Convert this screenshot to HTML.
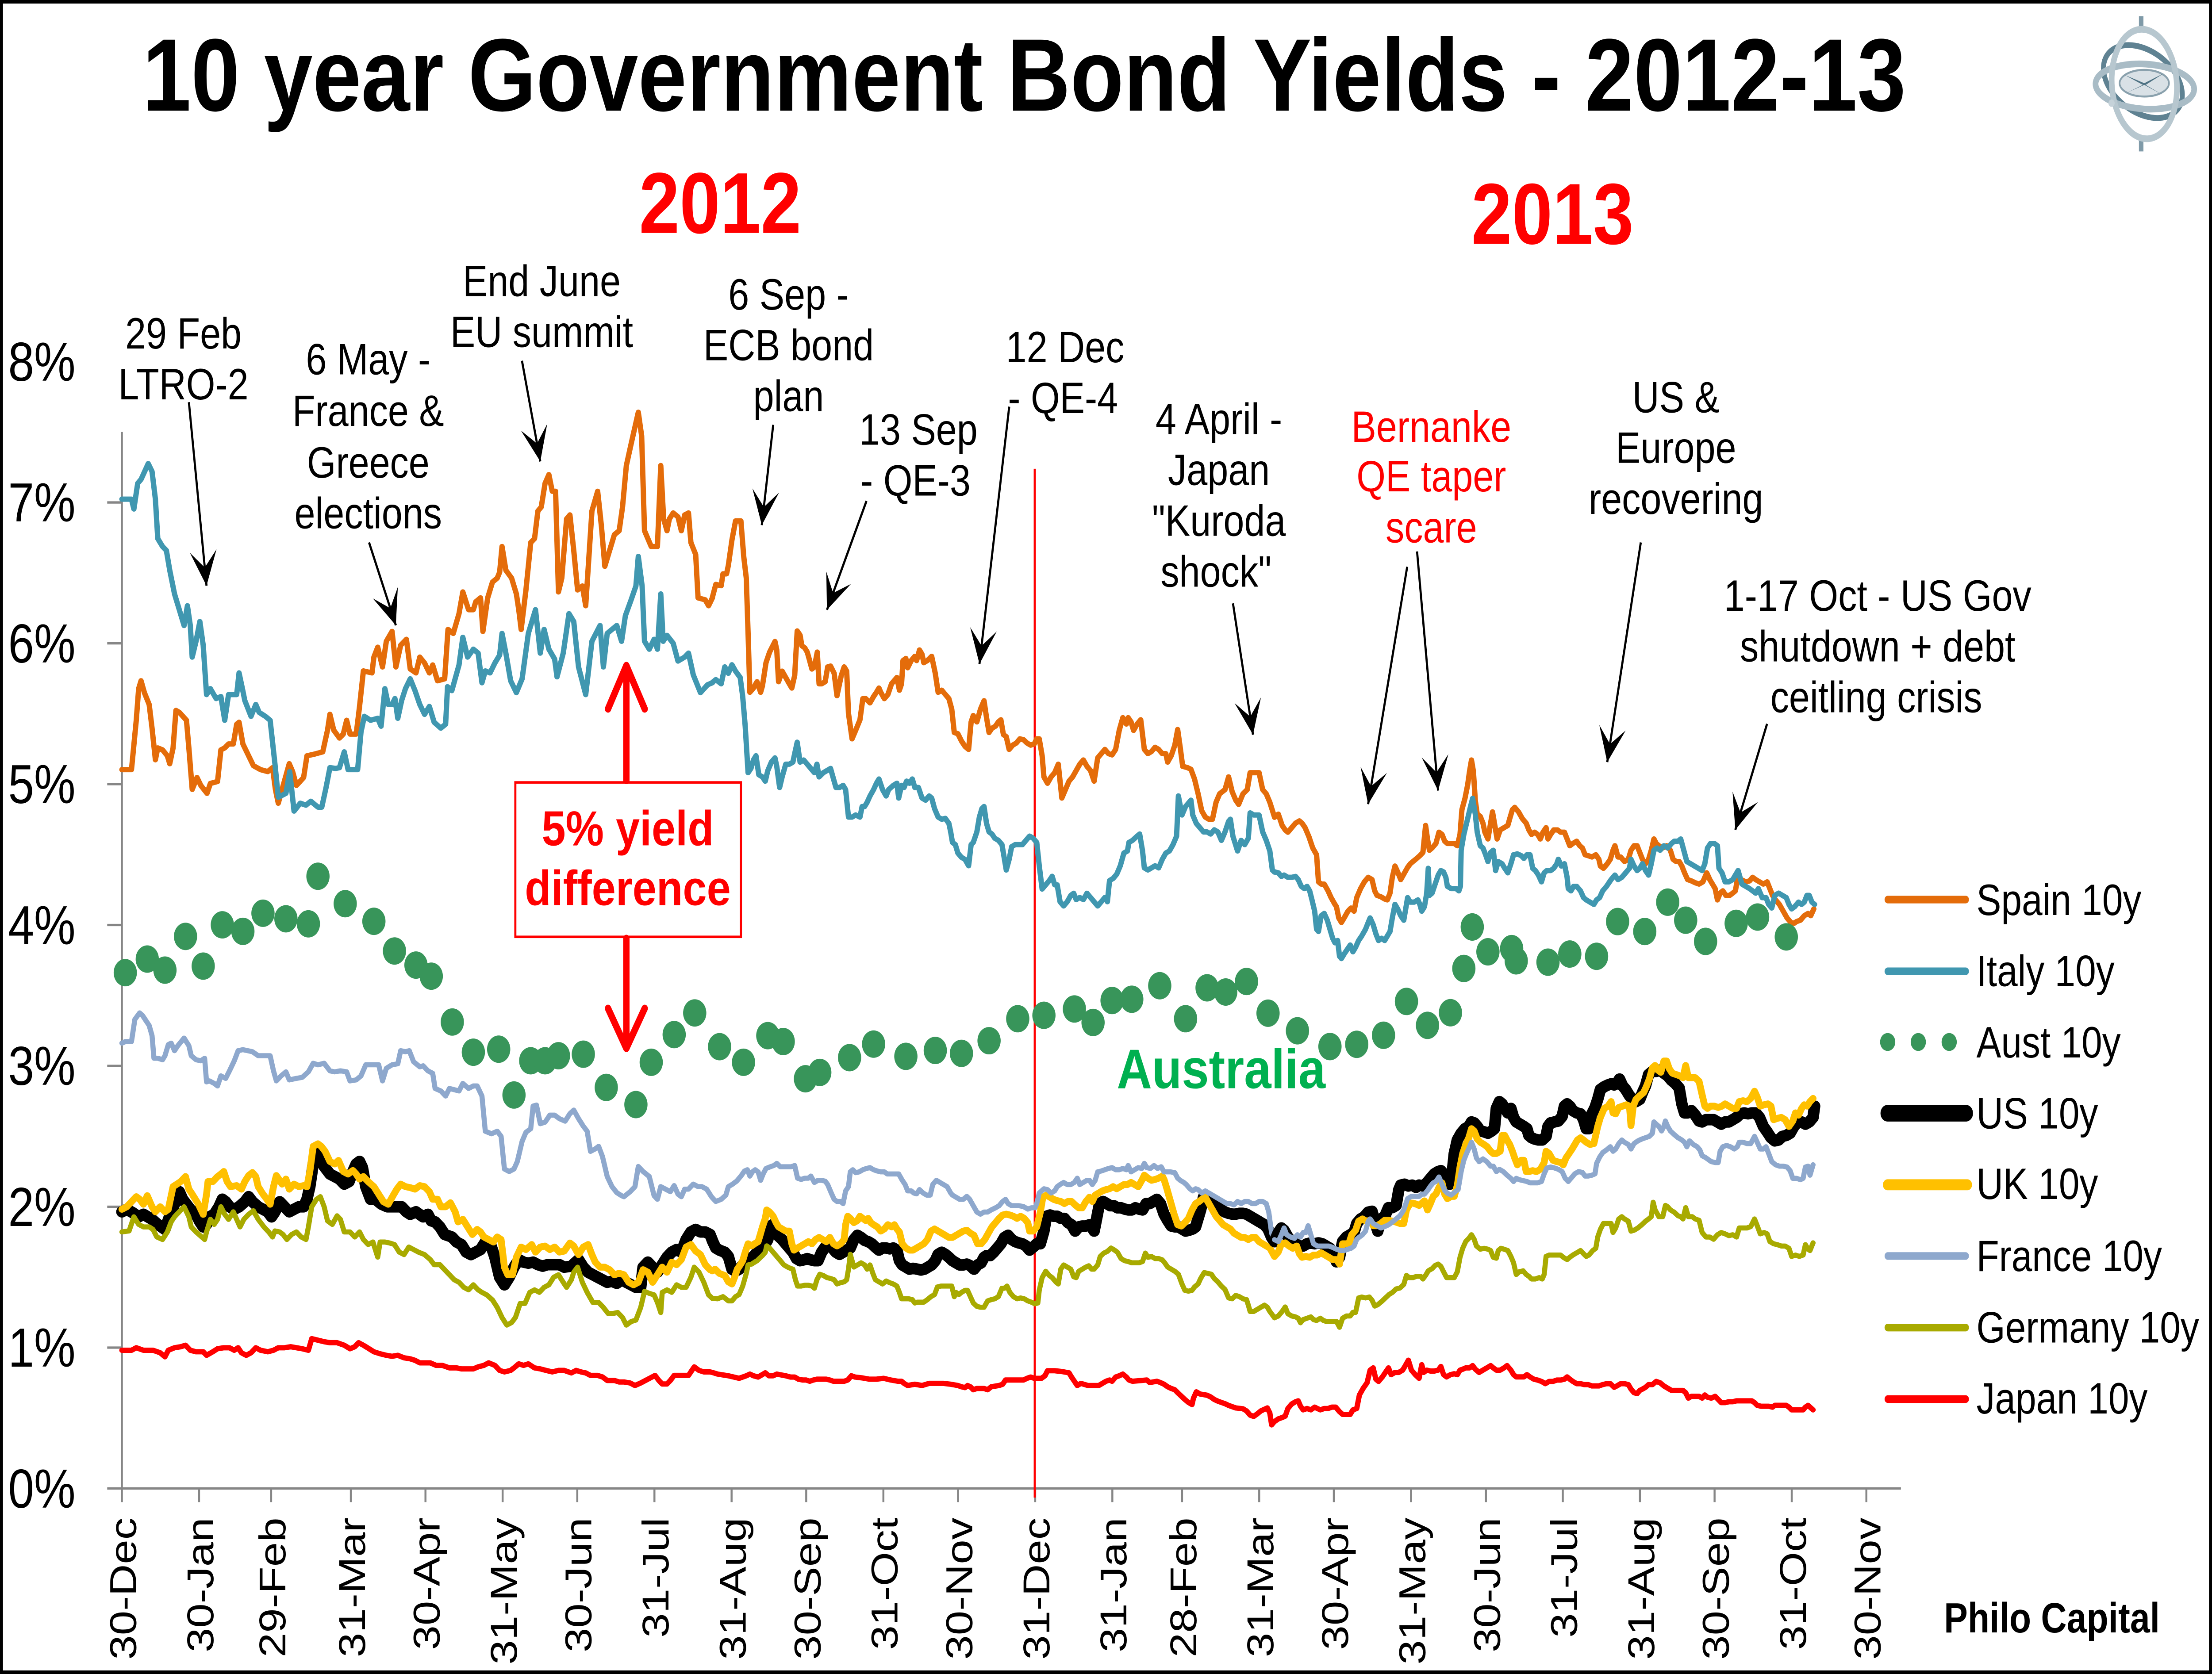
<!DOCTYPE html>
<html>
<head>
<meta charset="utf-8">
<style>
html,body{margin:0;padding:0;background:#fff;width:100%;height:100%;overflow:hidden}
svg.root{display:block;position:absolute;left:0;top:0;width:100vw;height:100vh}
.s{fill:none;stroke-linejoin:round;stroke-linecap:round;vector-effect:non-scaling-stroke}
text{font-family:"Liberation Sans",Arial,sans-serif}
</style>
</head>
<body>
<svg class="root" xmlns="http://www.w3.org/2000/svg" viewBox="0 0 5901 3785" preserveAspectRatio="none">
<rect x="0" y="0" width="5901" height="3785" fill="#fff"/>

<!-- ================= STATIC (small coords) ================= -->
<g transform="scale(3.76339,3.76243)">
<defs>
<marker id="ah" viewBox="-22 -11 23 22" refX="0" refY="0" markerWidth="23" markerHeight="22" markerUnits="userSpaceOnUse" orient="auto">
<path d="M0,0 L-21,-9.5 L-11,0 L-21,9.5 Z" fill="#000"/>
</marker>
</defs>

<!-- Title -->
<text x="101" y="66.5" font-size="62" font-weight="bold" fill="#000" textLength="1250" lengthAdjust="spacingAndGlyphs">10 year Government Bond Yields - 2012-13</text>
<text x="453" y="140" font-size="52" font-weight="bold" fill="#ff0000" textLength="115" lengthAdjust="spacingAndGlyphs">2012</text>
<text x="1043" y="146.5" font-size="52" font-weight="bold" fill="#ff0000" textLength="115" lengthAdjust="spacingAndGlyphs">2013</text>

<!-- Logo -->
<g>
<rect x="1516.2" y="9.7" width="3.2" height="8" fill="#7f9aa8"/>
<rect x="1516.2" y="83" width="3.2" height="8" fill="#7f9aa8"/>
<ellipse cx="1519" cy="49" rx="30" ry="19" transform="rotate(28 1519 49)" fill="none" stroke="#5f8292" stroke-width="3.5"/>
<ellipse cx="1520" cy="50" rx="17.5" ry="8" fill="#d9e1e6" stroke="#8aa1ad" stroke-width="1.2"/>
<path d="M1506 45 L1520 50 L1534 44 L1521 51 L1533 57 L1520 51 L1507 56 L1519 51Z" fill="#4f7384"/>
<ellipse cx="1520.4" cy="52" rx="35" ry="13.5" transform="rotate(3 1520.4 52)" fill="none" stroke="#a9bcc6" stroke-width="4"/>
<ellipse cx="1520" cy="50.5" rx="23" ry="33" transform="rotate(-6 1520 50.5)" fill="none" stroke="#b7c7cf" stroke-width="4"/>
<circle cx="1496.8" cy="62" r="2.2" fill="#c5d2d9"/>
</g>

<!-- Axes -->
<g stroke="#868686" stroke-width="1.4" fill="none">
<line x1="86.4" y1="259.6" x2="86.4" y2="894.5"/>
<line x1="76" y1="894.5" x2="1347.5" y2="894.5"/>
<line x1="76" y1="809.85" x2="86.4" y2="809.85"/>
<line x1="76" y1="725.2" x2="86.4" y2="725.2"/>
<line x1="76" y1="640.55" x2="86.4" y2="640.55"/>
<line x1="76" y1="555.9" x2="86.4" y2="555.9"/>
<line x1="76" y1="471.25" x2="86.4" y2="471.25"/>
<line x1="76" y1="386.6" x2="86.4" y2="386.6"/>
<line x1="76" y1="301.95" x2="86.4" y2="301.95"/>
<line x1="86.4" y1="894.5" x2="86.4" y2="902.7"/>
<line x1="141.1" y1="894.5" x2="141.1" y2="902.7"/>
<line x1="192.2" y1="894.5" x2="192.2" y2="902.7"/>
<line x1="248.7" y1="894.5" x2="248.7" y2="902.7"/>
<line x1="301.6" y1="894.5" x2="301.6" y2="902.7"/>
<line x1="356.3" y1="894.5" x2="356.3" y2="902.7"/>
<line x1="409.2" y1="894.5" x2="409.2" y2="902.7"/>
<line x1="463.9" y1="894.5" x2="463.9" y2="902.7"/>
<line x1="518.6" y1="894.5" x2="518.6" y2="902.7"/>
<line x1="571.5" y1="894.5" x2="571.5" y2="902.7"/>
<line x1="626.2" y1="894.5" x2="626.2" y2="902.7"/>
<line x1="679.1" y1="894.5" x2="679.1" y2="902.7"/>
<line x1="733.8" y1="894.5" x2="733.8" y2="902.7"/>
<line x1="788.5" y1="894.5" x2="788.5" y2="902.7"/>
<line x1="837.9" y1="894.5" x2="837.9" y2="902.7"/>
<line x1="892.6" y1="894.5" x2="892.6" y2="902.7"/>
<line x1="945.5" y1="894.5" x2="945.5" y2="902.7"/>
<line x1="1000.2" y1="894.5" x2="1000.2" y2="902.7"/>
<line x1="1053.3" y1="894.5" x2="1053.3" y2="902.7"/>
<line x1="1107.8" y1="894.5" x2="1107.8" y2="902.7"/>
<line x1="1162.5" y1="894.5" x2="1162.5" y2="902.7"/>
<line x1="1215.4" y1="894.5" x2="1215.4" y2="902.7"/>
<line x1="1270.1" y1="894.5" x2="1270.1" y2="902.7"/>
<line x1="1323" y1="894.5" x2="1323" y2="902.7"/>
</g>

<!-- Y labels -->
<g font-size="33" fill="#000" text-anchor="end">
<text x="53.5" y="906">0%</text>
<text x="53.5" y="821.3">1%</text>
<text x="53.5" y="736.7">2%</text>
<text x="53.5" y="652">3%</text>
<text x="53.5" y="567.4">4%</text>
<text x="53.5" y="482.7">5%</text>
<text x="53.5" y="398.1">6%</text>
<text x="53.5" y="313.4">7%</text>
<text x="53.5" y="228.8">8%</text>
</g>

<!-- X labels -->
<g font-size="26.5" fill="#000" text-anchor="end">
<text transform="translate(96.4,912) rotate(-90)">30-Dec</text>
<text transform="translate(151.1,912) rotate(-90)">30-Jan</text>
<text transform="translate(202.2,912) rotate(-90)">29-Feb</text>
<text transform="translate(258.7,912) rotate(-90)">31-Mar</text>
<text transform="translate(311.6,912) rotate(-90)">30-Apr</text>
<text transform="translate(366.3,912) rotate(-90)">31-May</text>
<text transform="translate(419.2,912) rotate(-90)">30-Jun</text>
<text transform="translate(473.9,912) rotate(-90)">31-Jul</text>
<text transform="translate(528.6,912) rotate(-90)">31-Aug</text>
<text transform="translate(581.5,912) rotate(-90)">30-Sep</text>
<text transform="translate(636.2,912) rotate(-90)">31-Oct</text>
<text transform="translate(689.1,912) rotate(-90)">30-Nov</text>
<text transform="translate(743.8,912) rotate(-90)">31-Dec</text>
<text transform="translate(798.5,912) rotate(-90)">31-Jan</text>
<text transform="translate(847.9,912) rotate(-90)">28-Feb</text>
<text transform="translate(902.6,912) rotate(-90)">31-Mar</text>
<text transform="translate(955.5,912) rotate(-90)">30-Apr</text>
<text transform="translate(1010.2,912) rotate(-90)">31-May</text>
<text transform="translate(1063.3,912) rotate(-90)">30-Jun</text>
<text transform="translate(1117.8,912) rotate(-90)">31-Jul</text>
<text transform="translate(1172.5,912) rotate(-90)">31-Aug</text>
<text transform="translate(1225.4,912) rotate(-90)">30-Sep</text>
<text transform="translate(1280.1,912) rotate(-90)">31-Oct</text>
<text transform="translate(1333,912) rotate(-90)">30-Nov</text>
</g>

<!-- Red vertical year divider -->
<line x1="733.5" y1="281.7" x2="733.5" y2="900" stroke="#ff0000" stroke-width="1.5"/>

<!-- Annotations -->
<g font-size="26.5" fill="#000" text-anchor="middle">
<text x="130" y="209.5">29 Feb</text>
<text x="130" y="240">LTRO-2</text>
<text x="261" y="225">6 May -</text>
<text x="261" y="256">France &amp;</text>
<text x="261" y="287">Greece</text>
<text x="261" y="317.5">elections</text>
<text x="384" y="178">End June</text>
<text x="384" y="208.5">EU summit</text>
<text x="559" y="186">6 Sep -</text>
<text x="559" y="216.5">ECB bond</text>
<text x="559" y="247">plan</text>
<text x="651" y="267.3">13 Sep</text>
<text x="649" y="297.8">- QE-3</text>
<text x="755" y="217.7">12 Dec</text>
<text x="753.5" y="248.2">- QE-4</text>
<text x="864" y="260.9">4 April -</text>
<text x="864" y="291.4">Japan</text>
<text x="864" y="322">"Kuroda</text>
<text x="862" y="352.5">shock"</text>
<text x="1188" y="247.9">US &amp;</text>
<text x="1188" y="278.2">Europe</text>
<text x="1188" y="308.9">recovering</text>
<text x="1331" y="367">1-17 Oct - US Gov</text>
<text x="1331" y="397.5">shutdown + debt</text>
<text x="1330" y="428">ceitling crisis</text>
</g>
<g font-size="26.5" fill="#ff0000" text-anchor="middle">
<text x="1014.6" y="265.5">Bernanke</text>
<text x="1014.6" y="295.3">QE taper</text>
<text x="1014.6" y="326">scare</text>
</g>

<!-- Annotation arrows -->
<g stroke="#000" stroke-width="1.5" marker-end="url(#ah)">
<line x1="133.9" y1="241.7" x2="146.4" y2="352"/>
<line x1="261.6" y1="326" x2="280.6" y2="375.8"/>
<line x1="370" y1="216.8" x2="383" y2="277.3"/>
<line x1="548.1" y1="255.3" x2="540" y2="315.6"/>
<line x1="614.2" y1="301.1" x2="586.2" y2="366.5"/>
<line x1="715.4" y1="244.4" x2="694.3" y2="399"/>
<line x1="874" y1="362.6" x2="888.2" y2="441.5"/>
<line x1="997.5" y1="340.6" x2="969.8" y2="483.3"/>
<line x1="1004.5" y1="331.4" x2="1019.4" y2="475.1"/>
<line x1="1163.1" y1="326" x2="1139.3" y2="458"/>
<line x1="1252.6" y1="435" x2="1230.1" y2="498.7"/>
</g>

<!-- 5% yield difference box + arrows -->
<rect x="365.3" y="470.2" width="159.9" height="92.8" fill="#fff" stroke="#ff0000" stroke-width="1.5"/>
<text x="445" y="508.1" font-size="29.5" font-weight="bold" fill="#ff0000" text-anchor="middle" textLength="122" lengthAdjust="spacingAndGlyphs">5% yield</text>
<text x="445" y="544" font-size="29.5" font-weight="bold" fill="#ff0000" text-anchor="middle" textLength="146" lengthAdjust="spacingAndGlyphs">difference</text>
<g stroke="#ff0000" stroke-width="4.5" fill="none" stroke-linecap="round" stroke-linejoin="round">
<line x1="444" y1="469" x2="444" y2="402"/>
<polyline points="431,426 444,400 457,426"/>
<line x1="444" y1="564" x2="444" y2="628"/>
<polyline points="431,606 444,630 457,606"/>
</g>

<!-- Australia label -->
<text x="791.6" y="654" font-size="33.5" font-weight="bold" fill="#00b050" textLength="148" lengthAdjust="spacingAndGlyphs">Australia</text>

<!-- Legend -->
<g stroke-linecap="round" fill="none">
<line x1="1338.2" y1="540.6" x2="1393.4" y2="540.6" stroke="#e46c0a" stroke-width="4.6"/>
<line x1="1338.2" y1="583.7" x2="1393.4" y2="583.7" stroke="#4097b0" stroke-width="4.6"/>
<line x1="1338" y1="669" x2="1393.6" y2="669" stroke="#000" stroke-width="10"/>
<line x1="1338" y1="712" x2="1394.6" y2="712" stroke="#ffc000" stroke-width="6.6"/>
<line x1="1338.2" y1="754.8" x2="1393.4" y2="754.8" stroke="#8ea8cd" stroke-width="4.6"/>
<line x1="1338.2" y1="797.8" x2="1393.4" y2="797.8" stroke="#a8aa00" stroke-width="4.6"/>
<line x1="1338.2" y1="840.8" x2="1393.4" y2="840.8" stroke="#ff0000" stroke-width="4.6"/>
</g>
<g fill="#38955a">
<circle cx="1338.1" cy="626.2" r="5.4"/>
<circle cx="1359.8" cy="626.2" r="5.4"/>
<circle cx="1381.7" cy="626.2" r="5.4"/>
</g>
<g font-size="26.3" fill="#000">
<text x="1401" y="549.9">Spain 10y</text>
<text x="1401" y="592.6">Italy 10y</text>
<text x="1401" y="635.5">Aust 10y</text>
<text x="1401" y="678.2">US 10y</text>
<text x="1401" y="720.6">UK 10y</text>
<text x="1401" y="763.9">France 10y</text>
<text x="1401" y="806.8">Germany 10y</text>
<text x="1401" y="849.5">Japan 10y</text>
</g>

<text x="1378" y="981" font-size="25.5" font-weight="bold" fill="#000" textLength="153" lengthAdjust="spacingAndGlyphs">Philo Capital</text>
</g>

<!-- ================= SERIES (zoom-space groups) ================= -->

<!-- Z1: x0-2000, y700-2100 -->
<g transform="translate(0,700) scale(1.27551,0.89286)">
<polyline class="s" stroke="#e46c0a" stroke-width="12" vector-effect="non-scaling-stroke" points="255,1165 275,1165 285,1040 290,960 295,940 302,970 312,1000 318,1060 325,1140 330,1110 340,1115 350,1130 355,1150 362,1110 368,1015 375,1020 390,1040 395,1110 402,1215 412,1185 420,1205 433,1225 440,1200 455,1195 462,1115 470,1110 478,1100 488,1100 495,1050 500,1045 508,1100 520,1130 530,1155 545,1165 560,1170 570,1160 576,1215 582,1250 590,1215 605,1150 612,1170 620,1205 635,1185 642,1130 660,1125 675,1120 685,1065 690,1025 698,1065 710,1085 718,1075 725,1040 732,1075 745,1075 752,1005 760,915 778,920 782,880 790,855 800,905 808,840 820,815 828,905 838,850 850,835 858,910 870,920 878,880 888,895 898,920 905,900 915,940 930,935 937,810 948,820 960,770 968,715 980,760 990,760 995,740 1005,730 1010,815 1020,730 1030,690 1040,680 1045,665 1050,600 1058,660 1070,680 1080,720 1085,760 1090,810 1100,710 1110,590 1118,580 1125,510 1132,500 1140,440 1148,418 1155,460 1162,460 1168,715 1175,680 1185,530 1192,520 1200,610 1208,710 1218,700 1225,750 1238,510 1250,460 1258,550 1265,650 1275,610 1285,570 1295,560 1302,500 1310,395 1320,340 1335,260 1342,320 1348,560 1355,580 1362,600 1375,600 1382,395 1388,530 1395,560 1400,530 1408,515 1418,525 1425,560 1432,520 1440,515 1445,590 1455,620 1460,730 1475,735 1482,750 1490,730"/>
<polyline class="s" stroke="#4097b0" stroke-width="12" vector-effect="non-scaling-stroke" points="255,480 275,480 280,505 288,440 295,430 310,390 318,410 325,480 330,580 340,600 348,610 355,660 365,720 375,760 385,800 392,750 398,800 402,880 410,840 418,790 425,850 432,975 440,960 452,985 462,980 470,1040 478,975 495,975 500,920 507,960 512,990 525,1030 535,1000 542,1020 555,1030 565,1040 575,1150 582,1235 598,1225 606,1170 615,1270 628,1250 640,1255 650,1245 665,1260 673,1260 682,1210 690,1160 702,1162 710,1160 720,1120 728,1165 748,1165 755,1070 762,1030 775,1040 790,1035 797,1055 805,960 812,1000 820,1000 826,985 832,1035 840,990 848,960 858,935 868,965 878,1000 888,1025 898,1005 908,1045 922,1060 932,1050 936,955 945,965 960,900 968,830 978,880 990,860 1000,870 1008,945 1015,915 1025,920 1035,895 1045,875 1050,820 1058,870 1068,940 1080,970 1092,935 1105,820 1120,760 1130,870 1138,810 1148,860 1160,885 1165,930 1178,870 1190,770 1200,790 1210,905 1225,975 1238,840 1255,800 1262,905 1270,820 1290,800 1300,840 1308,775 1320,735 1330,700 1335,625 1343,700 1348,840 1358,860 1368,835 1375,860 1382,720 1387,840 1395,825 1408,845 1418,890 1432,880 1440,870 1450,925 1465,970 1480,950 1490,945"/>
<ellipse cx="665" cy="1435" rx="24.3" ry="34.7" fill="#38955a"/>
</g>

<!-- Z2: x0-2000, y2000-3785 -->
<g transform="translate(0,2000) scale(1.27551,1.13839)">
<g fill="#38955a">
<ellipse cx="262" cy="175" rx="24.3" ry="27.2"/>
<ellipse cx="308" cy="148" rx="24.3" ry="27.2"/>
<ellipse cx="345" cy="170" rx="24.3" ry="27.2"/>
<ellipse cx="388" cy="103" rx="24.3" ry="27.2"/>
<ellipse cx="425" cy="162" rx="24.3" ry="27.2"/>
<ellipse cx="465" cy="80" rx="24.3" ry="27.2"/>
<ellipse cx="508" cy="93" rx="24.3" ry="27.2"/>
<ellipse cx="550" cy="57" rx="24.3" ry="27.2"/>
<ellipse cx="598" cy="68" rx="24.3" ry="27.2"/>
<ellipse cx="645" cy="78" rx="24.3" ry="27.2"/>
<ellipse cx="722" cy="38" rx="24.3" ry="27.2"/>
<ellipse cx="782" cy="73" rx="24.3" ry="27.2"/>
<ellipse cx="825" cy="132" rx="24.3" ry="27.2"/>
<ellipse cx="870" cy="160" rx="24.3" ry="27.2"/>
<ellipse cx="902" cy="182" rx="24.3" ry="27.2"/>
<ellipse cx="946" cy="273" rx="24.3" ry="27.2"/>
<ellipse cx="990" cy="333" rx="24.3" ry="27.2"/>
<ellipse cx="1043" cy="327" rx="24.3" ry="27.2"/>
<ellipse cx="1075" cy="418" rx="24.3" ry="27.2"/>
<ellipse cx="1110" cy="350" rx="24.3" ry="27.2"/>
<ellipse cx="1140" cy="350" rx="24.3" ry="27.2"/>
<ellipse cx="1168" cy="340" rx="24.3" ry="27.2"/>
<ellipse cx="1220" cy="337" rx="24.3" ry="27.2"/>
<ellipse cx="1268" cy="403" rx="24.3" ry="27.2"/>
<ellipse cx="1330" cy="437" rx="24.3" ry="27.2"/>
<ellipse cx="1362" cy="353" rx="24.3" ry="27.2"/>
<ellipse cx="1410" cy="298" rx="24.3" ry="27.2"/>
<ellipse cx="1453" cy="255" rx="24.3" ry="27.2"/>
<ellipse cx="1505" cy="322" rx="24.3" ry="27.2"/>
<ellipse cx="1555" cy="353" rx="24.3" ry="27.2"/>
</g>
<polyline class="s" stroke="#000" stroke-width="26" vector-effect="non-scaling-stroke" points="255,650 265,645 278,652 290,660 300,655 318,665 330,675 345,685 358,650 368,628 375,610 382,625 390,635 398,645 410,655 418,670 425,680 432,675 438,660 448,655 458,640 465,625 472,630 480,640 490,645 500,640 512,630 520,620 528,630 540,640 550,645 560,650 568,660 575,650 585,630 595,640 605,650 615,645 625,640 635,640 642,625 648,600 655,555 662,530 668,540 678,560 690,575 700,580 710,585 720,595 730,590 738,570 745,555 752,550 758,562 765,600 775,625 785,625 798,635 810,640 825,640 840,640 850,650 858,655 870,650 885,660 895,655 902,668 910,670 920,680 930,695 945,700 955,710 965,715 975,730 985,735 995,730 1005,725 1015,710 1025,712 1035,740 1045,780 1055,795 1065,780 1075,760 1085,745 1095,750 1105,752 1115,750 1125,755 1135,758 1145,755 1155,755 1170,755 1180,760 1195,758 1210,745 1220,760 1230,770 1240,775 1250,780 1260,785 1270,790 1280,788 1290,792 1300,785 1310,790 1320,795 1330,800 1340,800 1345,760 1355,750 1365,760 1375,770 1385,755 1395,740 1405,730 1415,725 1425,730 1435,705 1445,690 1455,685 1465,690 1475,690 1485,695 1490,707"/>
<polyline class="s" stroke="#ffc000" stroke-width="15.5" vector-effect="non-scaling-stroke" points="255,645 265,640 275,630 285,620 292,625 300,635 308,618 318,640 325,650 335,640 345,650 352,645 362,600 370,595 378,590 388,580 395,605 402,615 415,635 425,655 432,615 435,590 445,590 455,580 462,575 468,570 475,590 482,600 495,598 505,605 512,590 520,578 528,572 535,580 540,600 550,615 558,625 565,635 572,600 578,578 590,595 598,585 605,605 615,595 625,600 635,598 642,600 648,570 655,520 665,515 672,520 680,530 690,550 700,555 708,548 718,570 728,575 738,568 745,575 752,585 760,580 770,590 782,600 792,615 802,630 812,635 822,618 830,605 838,595 848,600 858,602 868,605 878,598 888,600 898,610 905,625 915,625 922,640 932,640 942,632 952,650 958,670 968,665 978,680 988,695 998,685 1005,690 1012,700 1022,705 1032,710 1040,700 1048,705 1055,760 1062,775 1072,775 1080,740 1090,720 1100,725 1112,715 1120,730 1130,720 1140,718 1150,725 1160,720 1170,730 1180,728 1192,712 1200,718 1210,735 1220,720 1230,715 1238,735 1245,750 1255,760 1265,760 1275,765 1285,775 1295,772 1305,775 1315,790 1325,795 1335,790 1345,765 1355,770 1365,790 1375,775 1385,760 1395,770 1405,750 1415,755 1425,745 1435,720 1445,715 1455,728 1465,735 1475,755 1485,765 1490,767"/>
<polyline class="s" stroke="#8ea8cd" stroke-width="11.5" vector-effect="non-scaling-stroke" points="255,315 262,312 275,312 282,268 292,255 298,260 305,270 312,280 318,300 322,345 330,345 340,348 345,340 352,318 358,315 365,330 372,320 385,305 395,320 400,340 410,348 420,350 428,345 432,392 438,390 448,395 455,400 462,380 472,385 480,370 490,350 498,330 508,328 518,330 528,332 540,340 552,340 565,340 572,370 578,390 588,380 598,372 605,388 620,385 632,383 645,372 655,355 665,358 678,355 690,370 700,372 712,370 725,372 732,390 745,388 755,380 765,358 780,358 792,358 800,390 808,365 820,358 832,356 838,330 848,332 856,330 865,352 878,362 885,360 895,370 905,375 910,405 922,410 932,420 940,405 952,408 960,410 968,395 980,405 990,400 998,400 1008,420 1015,490 1028,495 1040,490 1048,500 1055,565 1065,570 1075,565 1082,550 1092,510 1100,492 1110,485 1115,440 1122,438 1130,475 1140,472 1150,458 1160,458 1170,465 1182,470 1192,455 1200,448 1210,465 1220,480 1228,490 1235,530 1245,525 1252,520 1260,540 1270,580 1280,600 1290,612 1300,618 1305,620 1318,610 1328,600 1335,560 1345,570 1358,580 1368,618 1375,625 1382,600 1392,605 1402,610 1410,598 1418,615 1425,620 1432,605 1440,605 1450,595 1460,600 1468,600 1478,605 1488,620 1490,622"/>
<polyline class="s" stroke="#a8aa00" stroke-width="11.5" vector-effect="non-scaling-stroke" points="255,690 270,688 280,660 290,675 300,680 312,680 320,685 328,700 340,705 350,690 358,670 365,660 375,650 385,640 395,660 400,680 410,690 422,700 428,705 432,690 440,665 448,675 455,665 462,640 470,655 478,665 488,650 495,665 502,680 510,665 520,655 530,648 540,665 552,680 562,690 570,700 575,688 585,690 592,695 600,705 610,695 620,690 630,700 640,705 645,680 652,640 662,625 670,620 678,640 685,668 695,675 705,658 712,665 720,690 732,690 742,700 752,690 760,705 770,715 780,710 790,740 795,710 805,710 815,712 825,715 835,730 845,735 855,720 865,725 875,730 888,735 900,745 908,755 920,755 930,765 940,775 950,785 960,790 970,800 980,805 990,795 1000,805 1008,810 1018,815 1030,825 1040,840 1050,860 1060,875 1070,870 1078,860 1088,832 1098,832 1108,810 1118,805 1128,810 1138,800 1148,795 1158,780 1168,775 1178,790 1185,800 1195,785 1200,770 1208,760 1218,790 1228,810 1240,830 1252,830 1262,840 1272,852 1282,852 1292,850 1302,860 1310,875 1320,868 1330,865 1340,840 1348,808 1358,812 1368,815 1375,830 1382,850 1385,810 1395,805 1405,810 1415,795 1425,800 1435,800 1445,780 1452,760 1462,770 1472,790 1482,815 1490,822"/>
<polyline class="s" stroke="#ff0000" stroke-width="12" vector-effect="non-scaling-stroke" points="255,925 275,925 285,920 300,925 320,925 335,930 345,938 352,925 365,920 378,918 388,915 398,925 410,928 425,928 432,935 445,928 455,922 468,920 480,920 490,925 498,920 505,930 515,935 525,930 535,920 545,925 560,928 572,925 582,920 595,920 608,918 620,920 632,922 645,925 652,902 665,905 678,908 690,910 705,910 720,915 732,922 742,918 750,910 760,915 772,922 782,928 795,932 808,935 820,937 832,935 845,940 858,942 868,945 878,950 890,950 900,950 912,955 925,955 940,960 955,960 965,962 978,962 990,962 1000,958 1012,955 1022,950 1035,955 1045,965 1055,968 1068,965 1075,960 1085,952 1095,955 1105,952 1118,960 1130,962 1142,965 1155,968 1168,965 1180,965 1195,970 1205,965 1215,968 1225,970 1235,975 1250,975 1260,978 1270,985 1285,985 1295,988 1305,988 1318,990 1328,995 1340,990 1350,985 1360,980 1370,975 1378,985 1385,992 1395,992 1402,985 1410,975 1425,975 1440,975 1452,958 1462,965 1472,968 1485,968 1490,969"/>
</g>

<!-- Z5: x1900-3400, y800-2300 -->
<g transform="translate(1900,800) scale(0.95663)">
<polyline class="s" stroke="#e46c0a" stroke-width="12" vector-effect="non-scaling-stroke" points="0,577 10,545 25,548 30,520 40,520 45,500 55,440 65,395 80,395 88,480 95,530 100,660 105,800 115,790 125,775 135,800 140,785 150,730 160,705 175,680 180,700 185,775 195,750 205,765 215,780 222,790 230,760 237,655 245,665 250,690 258,695 265,705 270,720 278,745 285,740 293,705 298,780 305,780 315,775 322,740 330,738 340,755 348,808 360,760 368,740 375,750 380,850 390,910 400,890 412,865 420,815 428,815 440,825 450,810 458,800 465,790 470,800 480,815 490,805 500,780 515,765 522,795 528,780 532,725 540,720 545,742 555,725 565,715 570,725 578,700 585,710 590,730 600,725 612,715 622,755 630,800 640,795 650,805 660,815 668,840 675,895 685,898 695,915 705,928 715,935 722,870 728,855 738,870 748,840 758,820 765,860 772,895 780,885 790,880 798,870 805,865 812,900 820,905 828,935 838,925 848,920 858,910 868,912 878,920 888,925 898,922 905,910 912,910 920,950 925,1000 935,1015 945,1000 955,990 965,970 975,1050 985,1030 995,1010 1005,1000 1015,985 1025,970 1035,960 1045,975 1055,985 1065,1010 1075,955 1085,945 1095,935 1105,945 1115,948 1125,935 1135,890 1145,860 1155,875 1160,860 1168,870 1175,890 1185,875 1195,865 1205,935 1215,945 1225,940 1235,930 1245,935 1255,945 1265,945 1270,965 1280,950 1290,925 1298,888 1305,930 1312,975 1325,978 1335,982 1345,1005 1355,1040 1365,1080 1375,1095 1385,1100 1395,1100 1405,1060 1415,1040 1430,1030 1440,1000 1450,1035 1460,1055 1468,1065 1480,1040 1492,1030 1500,990 1510,990 1525,990 1535,1030 1545,1040 1555,1060 1568,1095"/>
<polyline class="s" stroke="#4097b0" stroke-width="12" vector-effect="non-scaling-stroke" points="0,777 10,770 25,780 35,740 45,755 55,735 65,750 78,765 85,810 92,880 100,990 108,980 115,960 122,950 130,995 140,1000 148,1010 155,985 165,965 175,955 180,975 188,1025 195,1000 205,970 215,970 225,965 230,945 237,918 245,965 255,960 265,970 275,980 285,990 292,970 298,1000 310,990 320,985 330,980 340,1010 345,1025 355,1025 365,1020 372,1030 380,1095 390,1095 400,1090 412,1095 418,1070 425,1070 432,1060 440,1045 450,1030 458,1015 465,1005 475,1030 485,1045 492,1030 505,1020 515,1015 520,1050 528,1020 535,1025 542,1010 550,1015 558,1005 565,1025 575,1025 585,1050 595,1055 605,1045 612,1050 620,1075 630,1095 640,1100 650,1098 660,1110 665,1130 670,1155 678,1160 685,1180 695,1190 705,1195 715,1210 722,1160 728,1155 738,1130 745,1095 752,1075 758,1070 765,1110 772,1130 780,1135 788,1145 798,1150 808,1160 815,1195 820,1220 828,1195 835,1165 845,1160 855,1160 865,1160 875,1150 885,1140 895,1145 905,1155 912,1210 920,1265 930,1255 940,1245 948,1235 955,1255 962,1255 970,1295 980,1305 990,1295 1000,1280 1008,1275 1015,1290 1025,1285 1035,1290 1045,1275 1055,1285 1065,1295 1075,1305 1085,1295 1095,1285 1102,1295 1108,1245 1118,1240 1128,1230 1138,1210 1148,1180 1158,1175 1162,1155 1172,1150 1185,1140 1192,1135 1200,1175 1205,1215 1215,1220 1225,1215 1235,1210 1245,1215 1255,1195 1265,1180 1275,1175 1285,1160 1295,1140 1300,1045 1310,1090 1320,1070 1335,1055 1340,1090 1350,1110 1360,1120 1370,1130 1380,1130 1390,1135 1400,1125 1410,1130 1420,1150 1430,1130 1440,1105 1445,1100 1452,1140 1465,1175 1475,1150 1485,1160 1495,1145 1500,1085 1510,1090 1525,1090 1535,1130 1545,1150 1555,1175 1562,1220 1568,1225"/>
</g>

<!-- Z6: x1900-3400, y2200-3700 -->
<g transform="translate(1900,2200) scale(0.95663)">
<g fill="#38955a">
<circle cx="155" cy="148" r="32.4"/>
<circle cx="198" cy="162" r="32.4"/>
<circle cx="260" cy="250" r="32.4"/>
<circle cx="300" cy="235" r="32.4"/>
<circle cx="383" cy="200" r="32.4"/>
<circle cx="450" cy="168" r="32.4"/>
<circle cx="540" cy="197" r="32.4"/>
<circle cx="622" cy="183" r="32.4"/>
<circle cx="695" cy="190" r="32.4"/>
<circle cx="772" cy="160" r="32.4"/>
<circle cx="852" cy="108" r="32.4"/>
<circle cx="925" cy="100" r="32.4"/>
<circle cx="1010" cy="85" r="32.4"/>
<circle cx="1062" cy="117" r="32.4"/>
<circle cx="1115" cy="65" r="32.4"/>
<circle cx="1170" cy="62" r="32.4"/>
<circle cx="1248" cy="30" r="32.4"/>
<circle cx="1320" cy="108" r="32.4"/>
<circle cx="1380" cy="35" r="32.4"/>
<circle cx="1432" cy="45" r="32.4"/>
<circle cx="1490" cy="20" r="32.4"/>
<circle cx="1550" cy="95" r="32.4"/>
</g>
<polyline class="s" stroke="#000" stroke-width="26" vector-effect="non-scaling-stroke" points="0,632 10,650 20,655 35,660 45,670 55,700 65,705 75,700 85,690 95,680 105,675 115,670 125,660 135,650 145,645 155,630 162,600 168,595 175,610 185,622 195,630 205,640 215,650 225,660 235,675 245,680 255,678 265,675 275,678 285,680 295,680 305,660 315,648 325,640 335,650 345,660 355,665 365,660 375,655 385,650 395,630 405,620 415,625 425,632 435,635 445,640 455,648 465,655 475,650 485,650 495,652 505,650 515,655 522,680 530,690 540,695 550,700 560,698 572,700 582,702 592,700 602,695 612,690 622,680 630,665 640,660 650,665 660,672 670,680 680,685 690,690 700,690 710,688 720,692 730,700 740,690 750,685 758,672 765,668 775,668 785,660 795,650 805,640 815,625 825,620 835,630 845,635 855,638 865,640 875,645 885,655 895,648 905,640 915,640 925,610 932,575 942,572 952,575 962,575 972,580 982,580 992,590 1002,595 1012,610 1022,600 1032,598 1042,598 1052,595 1058,600 1065,610 1072,580 1080,545 1090,540 1100,545 1110,550 1120,550 1130,555 1140,555 1150,558 1160,560 1170,560 1180,555 1190,558 1200,560 1210,545 1220,545 1230,540 1240,535 1250,545 1260,570 1270,585 1280,598 1290,600 1300,600 1310,605 1320,610 1330,608 1340,605 1348,600 1355,580 1362,560 1370,530 1380,530 1390,540 1400,545 1410,555 1420,560 1430,565 1440,568 1450,570 1460,570 1470,568 1480,568 1490,570 1500,575 1510,580 1520,585 1530,590 1540,595 1550,605 1560,625 1568,635"/>
<polyline class="s" stroke="#ffc000" stroke-width="15.5" vector-effect="non-scaling-stroke" points="0,704 8,700 20,710 35,715 45,730 55,735 62,720 70,700 78,690 85,680 92,660 100,640 110,645 118,640 128,635 135,615 140,600 148,580 152,560 160,565 170,575 178,590 185,600 195,605 205,610 215,610 222,640 228,655 238,650 248,645 258,640 268,635 278,640 288,630 298,625 308,630 318,635 328,625 338,640 348,645 358,640 368,630 372,595 378,575 385,580 395,590 405,585 412,575 420,580 428,585 435,580 442,590 450,595 460,600 470,610 480,605 490,595 500,600 508,595 515,605 522,612 530,640 540,650 550,655 560,655 570,650 580,645 590,640 600,630 610,610 620,605 630,610 640,615 650,620 660,625 670,625 680,620 690,615 700,610 710,608 720,615 730,620 740,640 750,640 760,630 770,615 780,600 790,590 800,580 810,572 820,570 830,572 840,575 850,580 860,575 870,580 880,590 885,610 895,610 905,600 915,565 922,530 932,525 942,530 952,535 962,538 972,540 982,545 992,540 1002,540 1012,548 1022,555 1032,555 1042,540 1052,530 1060,540 1068,525 1078,520 1088,515 1098,512 1108,510 1118,505 1128,510 1138,505 1148,500 1158,500 1168,495 1178,500 1188,505 1198,490 1205,478 1215,485 1225,490 1235,488 1245,485 1255,480 1260,488 1268,510 1278,540 1288,570 1298,595 1308,598 1318,590 1328,580 1338,560 1348,545 1358,540 1365,535 1375,530 1385,545 1395,560 1405,575 1415,585 1425,595 1435,600 1445,605 1455,615 1465,620 1475,625 1485,625 1495,630 1505,625 1515,625 1525,635 1535,640 1545,645 1555,650 1568,670"/>
<polyline class="s" stroke="#8ea8cd" stroke-width="11.5" vector-effect="non-scaling-stroke" points="0,531 10,540 25,535 38,525 45,505 55,500 68,492 80,480 90,468 98,465 105,480 112,470 120,465 128,470 135,490 142,475 150,462 162,458 172,455 180,450 190,458 205,458 220,458 230,455 238,485 248,488 258,485 268,485 275,480 285,495 295,490 305,490 315,492 322,500 332,520 340,535 348,540 358,540 365,545 372,515 380,505 385,470 392,465 400,472 410,470 420,465 430,462 440,460 450,465 460,468 470,470 480,470 488,475 498,475 510,475 520,475 530,490 538,500 545,515 555,515 562,520 570,522 578,512 588,520 598,525 608,525 615,500 625,490 635,495 645,500 655,505 665,520 670,525 680,530 690,535 700,535 710,528 718,535 728,550 738,565 748,570 758,565 768,565 778,560 790,555 800,550 810,540 818,535 825,545 835,550 845,550 855,550 868,552 880,558 890,555 900,555 905,545 912,520 925,510 935,512 945,520 955,515 962,505 970,500 980,495 990,500 1000,500 1010,495 1018,485 1025,500 1035,495 1045,490 1052,490 1060,500 1068,490 1075,470 1085,468 1095,465 1105,462 1115,460 1125,465 1135,465 1145,462 1155,465 1160,455 1168,470 1178,465 1188,460 1198,462 1205,450 1212,460 1222,462 1232,455 1242,462 1252,458 1260,470 1268,470 1278,470 1290,472 1298,485 1305,490 1315,495 1322,500 1332,510 1340,515 1348,510 1355,512 1365,520 1375,515 1385,520 1395,525 1405,530 1415,535 1425,540 1435,545 1445,545 1455,548 1465,540 1475,545 1485,540 1495,540 1505,545 1515,545 1525,540 1535,540 1545,545 1552,565 1560,615 1568,630"/>
<polyline class="s" stroke="#a8aa00" stroke-width="11.5" vector-effect="non-scaling-stroke" points="0,769 15,770 30,765 45,775 55,775 65,765 75,760 85,740 95,710 100,690 110,688 125,680 140,668 148,660 152,645 160,650 170,660 180,670 190,680 200,690 210,695 218,698 225,700 232,725 238,740 248,740 258,738 268,738 278,740 285,745 292,725 300,712 310,715 320,720 330,722 340,725 348,735 358,732 368,730 375,725 380,700 385,665 390,680 395,695 405,690 415,685 425,690 432,700 440,690 448,710 455,725 465,730 475,735 485,728 495,732 505,735 515,740 522,755 528,770 538,770 548,770 558,772 565,780 572,778 580,778 590,778 600,772 610,765 620,760 628,742 638,740 648,740 658,740 668,740 675,765 680,755 688,760 695,755 705,750 712,750 720,765 728,780 738,788 748,790 758,790 768,775 778,772 788,770 798,765 808,745 815,745 822,740 830,755 840,765 850,770 860,768 870,770 880,775 890,778 900,782 908,780 912,750 920,720 930,705 940,715 948,720 958,730 965,735 972,700 980,690 990,695 1000,700 1008,718 1015,720 1022,705 1032,700 1042,695 1050,692 1058,700 1065,700 1075,690 1082,670 1092,662 1102,658 1112,650 1122,655 1130,660 1140,675 1150,680 1160,682 1170,685 1180,685 1190,685 1200,682 1208,662 1215,672 1225,670 1235,675 1245,675 1255,678 1262,685 1270,695 1280,700 1290,705 1300,712 1310,735 1318,750 1328,752 1338,750 1345,742 1355,735 1362,722 1372,708 1382,710 1392,712 1400,722 1410,730 1420,740 1430,748 1440,768 1450,770 1460,762 1470,765 1480,770 1490,772 1495,785 1500,800 1510,800 1520,795 1530,790 1540,785 1548,790 1555,800 1568,815"/>
<polyline class="s" stroke="#ff0000" stroke-width="12" vector-effect="non-scaling-stroke" points="0,944 15,948 30,950 45,952 60,955 75,958 85,955 95,952 105,948 115,952 128,955 138,950 148,945 158,952 170,952 180,948 192,950 205,952 218,955 230,955 240,960 252,962 262,962 272,965 282,962 292,960 305,960 318,960 328,962 338,965 348,965 368,965 378,962 388,952 398,955 418,957 438,960 458,960 478,958 498,962 518,965 528,965 535,970 545,975 565,972 585,975 605,970 645,970 665,972 685,975 695,978 705,980 712,975 720,978 728,985 738,982 758,982 768,985 778,978 800,975 810,972 818,962 868,962 878,958 888,955 898,958 918,958 928,952 935,940 955,940 975,942 995,945 1002,955 1010,965 1018,975 1028,970 1048,975 1078,975 1088,970 1098,965 1108,962 1115,965 1125,955 1135,952 1145,948 1155,955 1162,962 1172,965 1212,962 1220,968 1240,965 1250,968 1260,972 1270,978 1280,982 1290,985 1298,992 1308,1000 1318,1008 1328,1015 1338,1020 1342,1005 1350,990 1360,995 1380,998 1390,1002 1400,1008 1410,1012 1420,1015 1430,1018 1440,1022 1450,1025 1460,1028 1480,1030 1490,1035 1500,1045 1510,1048 1520,1042 1530,1035 1548,1028 1555,1040 1560,1068 1568,1060"/>
</g>

<!-- Z7: x3400-5000, y800-2400 -->
<g transform="translate(3400,800) scale(1.02041)">
<polyline class="s" stroke="#e46c0a" stroke-width="12" vector-effect="non-scaling-stroke" points="0,1027 10,1020 20,1045 28,1055 35,1060 45,1050 55,1040 65,1035 72,1040 80,1050 90,1070 100,1095 110,1110 115,1170 122,1175 130,1175 140,1190 148,1205 158,1220 162,1225 168,1250 175,1260 182,1250 192,1235 200,1228 208,1235 215,1205 225,1185 235,1170 245,1160 255,1165 262,1190 268,1200 278,1203 288,1208 295,1210 302,1195 308,1160 315,1135 322,1148 330,1165 340,1150 348,1138 355,1130 362,1125 372,1118 380,1112 388,1105 395,1045 400,1075 405,1100 412,1095 422,1085 430,1060 438,1065 445,1080 452,1085 460,1085 470,1085 478,1090 485,1065 490,1010 498,985 505,955 510,925 515,900 520,925 525,990 530,1020 538,1025 545,1040 550,1060 558,1075 565,1040 570,1015 575,1040 582,1075 590,1055 600,1050 610,1045 615,1030 622,1010 628,1005 638,1015 648,1030 658,1040 665,1055 672,1065 680,1060 688,1065 695,1075 702,1060 710,1050 715,1075 722,1065 730,1055 740,1055 748,1060 758,1060 765,1075 772,1090 780,1085 790,1080 798,1090 805,1095 812,1110 820,1112 830,1115 840,1110 848,1120 852,1135 860,1140 870,1130 878,1120 885,1100 890,1090 898,1115 905,1115 915,1125 925,1120 932,1100 940,1090 948,1090 955,1105 962,1120 970,1130 978,1120 985,1100 992,1075 998,1085 1005,1090 1015,1095 1025,1090 1035,1100 1042,1120 1050,1125 1058,1125 1065,1135 1072,1150 1080,1165 1090,1168 1100,1172 1110,1175 1120,1170 1130,1150 1138,1165 1145,1175 1152,1185 1158,1210 1165,1195 1172,1190 1180,1200 1190,1200 1198,1195 1205,1190 1210,1165 1220,1165 1232,1170 1242,1168 1250,1160 1258,1165 1268,1170 1278,1175 1288,1170 1295,1185 1302,1200 1310,1210 1320,1220 1330,1235 1340,1250 1350,1260 1358,1262 1365,1258 1375,1255 1385,1245 1395,1240 1402,1245 1410,1230"/>
<polyline class="s" stroke="#4097b0" stroke-width="12" vector-effect="non-scaling-stroke" points="0,1148 10,1150 18,1158 25,1155 35,1160 45,1160 55,1158 62,1165 70,1180 78,1185 85,1180 92,1190 98,1210 105,1235 110,1275 115,1280 122,1245 130,1240 138,1255 145,1275 152,1295 158,1305 165,1300 170,1335 175,1340 182,1330 190,1320 198,1310 205,1325 212,1315 220,1300 228,1290 238,1275 245,1260 250,1250 258,1265 265,1285 272,1300 280,1295 288,1300 295,1290 302,1280 308,1250 315,1220 322,1230 330,1245 338,1255 345,1220 348,1205 355,1215 365,1215 375,1210 380,1220 385,1235 392,1225 398,1195 402,1140 405,1200 412,1195 420,1175 428,1155 435,1145 442,1148 448,1160 452,1180 462,1185 475,1185 482,1190 486,1180 488,1100 495,1065 505,1030 512,1005 518,985 525,1020 530,1060 538,1090 545,1095 552,1110 558,1125 565,1105 572,1100 578,1145 585,1125 595,1130 602,1140 610,1150 618,1130 625,1110 635,1108 645,1112 652,1118 660,1110 668,1110 675,1140 682,1145 690,1155 698,1170 705,1150 712,1145 722,1145 730,1140 738,1130 742,1120 750,1135 758,1130 765,1160 768,1185 775,1190 782,1180 790,1180 800,1190 808,1205 815,1210 825,1215 835,1220 842,1210 850,1205 858,1190 868,1180 880,1165 890,1155 898,1165 908,1160 918,1150 928,1140 932,1120 940,1135 948,1145 955,1140 962,1130 970,1145 978,1155 985,1130 992,1100 1000,1095 1008,1100 1018,1090 1028,1095 1038,1085 1045,1080 1055,1080 1062,1075 1070,1100 1078,1125 1088,1130 1098,1135 1108,1140 1118,1145 1125,1130 1132,1095 1140,1085 1150,1085 1158,1090 1162,1140 1170,1150 1178,1170 1188,1170 1198,1165 1205,1155 1212,1145 1222,1175 1232,1180 1242,1185 1250,1190 1258,1195 1265,1185 1275,1205 1285,1205 1292,1220 1300,1228 1308,1200 1318,1195 1328,1200 1338,1205 1345,1220 1352,1230 1360,1225 1370,1215 1378,1220 1385,1215 1392,1200 1398,1200 1405,1215 1412,1220"/>
<g fill="#38955a">
<circle cx="60" cy="1500" r="30.4"/>
<circle cx="145" cy="1535" r="30.4"/>
<circle cx="215" cy="1530" r="30.4"/>
<circle cx="285" cy="1510" r="30.4"/>
<circle cx="345" cy="1435" r="30.4"/>
<circle cx="400" cy="1488" r="30.4"/>
<circle cx="460" cy="1460" r="30.4"/>
<circle cx="495" cy="1362" r="30.4"/>
<circle cx="517" cy="1270" r="30.4"/>
<circle cx="558" cy="1325" r="30.4"/>
<circle cx="620" cy="1318" r="30.4"/>
<circle cx="632" cy="1345" r="30.4"/>
<circle cx="715" cy="1348" r="30.4"/>
<circle cx="772" cy="1330" r="30.4"/>
<circle cx="842" cy="1335" r="30.4"/>
<circle cx="897" cy="1258" r="30.4"/>
<circle cx="968" cy="1280" r="30.4"/>
<circle cx="1028" cy="1215" r="30.4"/>
<circle cx="1075" cy="1255" r="30.4"/>
<circle cx="1127" cy="1302" r="30.4"/>
<circle cx="1207" cy="1262" r="30.4"/>
<circle cx="1263" cy="1248" r="30.4"/>
<circle cx="1338" cy="1292" r="30.4"/>
</g>
</g>

<!-- Z8: x3400-5000, y2200-3800 -->
<g transform="translate(3400,2200) scale(1.02041)">
<polyline class="s" stroke="#000" stroke-width="26" vector-effect="non-scaling-stroke" points="0,595 10,575 18,565 25,570 35,585 45,595 55,600 65,605 75,605 85,600 95,598 105,600 115,598 125,600 135,605 145,610 155,625 162,640 170,630 178,595 188,585 198,580 208,575 215,555 225,545 235,540 245,530 255,528 262,550 270,572 278,545 288,540 298,520 308,520 318,515 325,480 330,470 340,468 350,472 360,470 370,475 378,470 388,472 398,465 408,455 418,445 428,440 435,438 442,445 450,460 458,468 465,440 470,400 478,370 488,355 498,345 508,340 515,330 522,332 530,340 538,350 548,352 558,355 568,350 575,345 580,300 588,285 595,290 602,300 610,310 618,300 625,320 632,330 642,335 652,340 660,345 665,360 672,365 680,368 690,370 700,370 710,362 715,340 722,332 732,330 742,328 752,318 758,295 765,290 772,295 780,305 790,310 800,312 808,325 815,345 822,345 828,315 838,298 845,280 852,258 862,252 872,248 882,245 888,248 895,245 902,235 910,250 918,258 928,272 935,278 945,285 955,280 962,265 970,250 978,225 988,218 998,218 1008,215 1018,222 1028,228 1038,238 1048,245 1058,255 1065,290 1072,310 1080,310 1090,305 1100,315 1110,328 1118,330 1128,325 1138,325 1148,325 1158,330 1168,335 1178,330 1188,330 1198,325 1208,320 1218,312 1228,310 1238,312 1248,310 1258,310 1268,320 1278,340 1288,352 1298,365 1308,372 1318,370 1328,362 1338,360 1348,355 1358,340 1368,330 1378,330 1388,335 1398,330 1408,320 1412,295"/>
<polyline class="s" stroke="#ffc000" stroke-width="15.5" vector-effect="non-scaling-stroke" points="0,628 10,618 18,600 28,598 38,605 48,610 58,605 65,622 72,630 82,628 92,630 102,625 112,625 122,620 132,625 142,630 152,635 162,635 170,645 178,600 188,600 195,598 202,580 212,570 220,550 230,545 240,550 250,548 258,560 268,560 278,555 288,548 298,548 308,550 318,552 328,555 338,555 345,525 355,510 362,510 370,512 378,515 385,510 392,505 400,525 408,510 415,495 422,490 430,475 438,465 445,490 452,500 462,495 470,495 478,470 485,430 492,400 500,380 508,365 515,345 522,350 530,368 538,375 548,380 556,385 565,395 572,400 580,400 590,395 595,360 602,360 608,370 615,380 622,395 628,410 635,425 645,415 652,415 658,440 665,440 675,438 685,440 695,435 705,420 710,395 718,400 728,415 738,418 748,420 755,425 762,410 770,400 778,390 785,380 792,370 800,365 808,370 815,375 825,380 835,378 845,340 852,320 862,300 872,295 880,285 885,310 892,312 900,298 910,295 920,292 928,295 932,338 938,295 945,280 955,272 965,265 972,252 980,235 988,210 995,205 1002,215 1010,220 1018,195 1025,195 1032,212 1040,222 1050,225 1060,228 1068,232 1075,205 1082,232 1092,232 1100,232 1110,240 1118,270 1125,295 1132,300 1140,295 1150,295 1160,298 1170,295 1178,290 1188,295 1198,300 1208,300 1215,285 1225,283 1235,285 1245,278 1255,262 1262,275 1270,295 1280,292 1290,290 1298,295 1305,325 1315,322 1325,320 1335,325 1345,340 1355,328 1362,310 1370,315 1378,300 1385,292 1392,295 1400,285 1408,278"/>
<polyline class="s" stroke="#8ea8cd" stroke-width="11.5" vector-effect="non-scaling-stroke" points="0,591 10,595 18,580 25,565 32,580 42,585 52,588 60,580 68,585 75,575 82,575 88,560 95,580 102,600 112,605 122,605 132,605 142,605 152,608 162,612 172,615 182,615 192,612 200,610 208,605 215,590 222,585 230,580 238,572 245,550 250,545 258,555 268,560 278,565 288,562 298,558 308,552 318,545 328,538 338,525 348,500 358,495 368,495 378,495 385,490 392,490 400,482 408,472 415,465 422,462 430,452 438,468 445,482 452,488 462,492 472,485 480,480 488,440 495,415 502,400 510,385 515,375 522,390 528,410 535,418 545,412 555,418 565,428 572,428 580,440 588,435 598,440 608,448 618,455 625,462 632,455 640,458 650,460 660,462 668,465 678,465 688,465 698,462 705,445 712,432 722,430 732,432 742,435 752,440 760,455 768,462 775,455 785,445 795,440 805,442 812,450 820,450 830,448 838,445 842,422 850,408 858,398 868,392 878,385 885,395 892,390 900,378 908,370 915,375 925,380 932,390 940,378 950,372 960,368 970,365 980,362 988,355 992,330 998,335 1005,340 1012,350 1018,340 1022,328 1028,340 1035,350 1045,358 1055,365 1065,370 1072,375 1078,385 1085,372 1095,380 1105,385 1112,392 1118,405 1125,408 1132,412 1142,418 1152,420 1160,420 1165,395 1172,385 1182,382 1192,385 1202,390 1210,385 1215,375 1225,375 1235,378 1245,378 1255,362 1262,375 1270,390 1278,390 1285,385 1292,400 1300,418 1310,425 1320,428 1330,428 1340,430 1348,438 1355,455 1365,455 1375,458 1382,455 1388,430 1395,428 1400,448 1408,425"/>
<polyline class="s" stroke="#a8aa00" stroke-width="11.5" vector-effect="non-scaling-stroke" points="0,764 10,760 20,750 28,740 35,755 45,760 55,762 62,765 68,775 75,768 85,765 95,762 102,768 110,770 120,765 128,770 135,772 145,772 155,772 162,772 170,785 178,765 188,760 198,760 205,752 212,752 220,720 228,718 238,720 248,718 255,725 262,738 270,735 280,728 290,720 300,712 308,708 318,700 328,698 338,690 345,670 352,675 362,675 372,672 382,672 388,678 395,670 402,660 412,655 420,648 428,645 435,650 442,662 450,675 460,675 470,675 478,662 485,630 492,610 500,595 508,588 515,580 522,590 528,605 538,612 548,610 558,612 565,615 572,630 580,632 585,615 592,610 600,612 610,615 618,628 625,642 632,668 640,662 650,660 658,668 665,672 672,678 682,678 692,675 700,678 705,668 710,628 718,625 728,625 738,625 748,625 755,630 765,635 772,630 780,625 790,620 800,615 808,622 815,628 822,625 832,615 840,610 845,585 852,568 860,555 870,555 880,555 885,575 892,565 900,545 908,540 915,545 925,550 932,572 940,570 950,565 960,558 970,550 978,545 985,540 990,508 995,525 1005,540 1015,540 1022,515 1028,518 1035,525 1045,530 1055,538 1062,540 1068,545 1075,520 1082,540 1092,540 1100,545 1110,548 1118,575 1128,585 1138,585 1148,590 1158,580 1168,575 1178,578 1188,582 1198,580 1208,585 1215,565 1225,565 1235,565 1245,562 1255,545 1262,560 1270,578 1280,575 1288,578 1295,595 1305,600 1315,602 1325,605 1335,605 1345,610 1352,628 1362,625 1372,628 1382,625 1388,602 1395,612 1400,615 1408,598"/>
<polyline class="s" stroke="#ff0000" stroke-width="12" vector-effect="non-scaling-stroke" points="0,994 10,988 20,985 28,982 35,965 45,955 55,950 62,948 68,960 75,968 85,965 95,968 105,962 112,965 120,968 130,965 140,965 150,962 160,962 170,972 178,978 188,978 198,978 205,968 215,965 222,935 232,920 242,908 250,880 258,875 265,900 272,905 282,895 290,885 298,875 305,890 315,885 325,885 335,880 342,870 350,858 358,880 368,890 378,898 385,868 390,885 398,880 408,882 418,882 428,880 435,872 442,890 450,895 460,890 470,888 478,890 485,880 492,878 500,875 510,875 518,870 525,878 535,885 545,880 555,875 565,870 572,875 580,880 590,880 600,875 608,870 618,880 625,890 632,895 642,895 652,895 660,890 668,895 678,900 688,902 698,905 708,910 718,905 728,905 738,902 748,902 758,900 765,895 772,900 780,905 790,910 800,910 810,912 820,912 830,915 840,915 848,915 858,912 868,910 878,910 888,918 895,915 905,910 915,910 925,912 932,922 940,930 948,932 955,925 962,922 970,918 978,912 988,912 998,905 1008,908 1018,915 1028,920 1038,925 1048,925 1058,925 1068,925 1075,930 1082,942 1090,938 1100,938 1110,938 1118,942 1125,935 1132,940 1142,942 1152,938 1160,945 1168,952 1178,952 1188,950 1198,950 1208,948 1218,948 1228,948 1238,948 1248,948 1255,952 1262,958 1272,960 1282,960 1292,960 1302,962 1308,958 1318,958 1328,958 1338,958 1345,962 1352,968 1362,968 1372,968 1382,968 1388,962 1395,958 1400,962 1408,968"/>
</g>

<!-- Frame -->
<rect x="4" y="4" width="5893" height="3777" fill="none" stroke="#000" stroke-width="8"/>
</svg>
</body>
</html>
